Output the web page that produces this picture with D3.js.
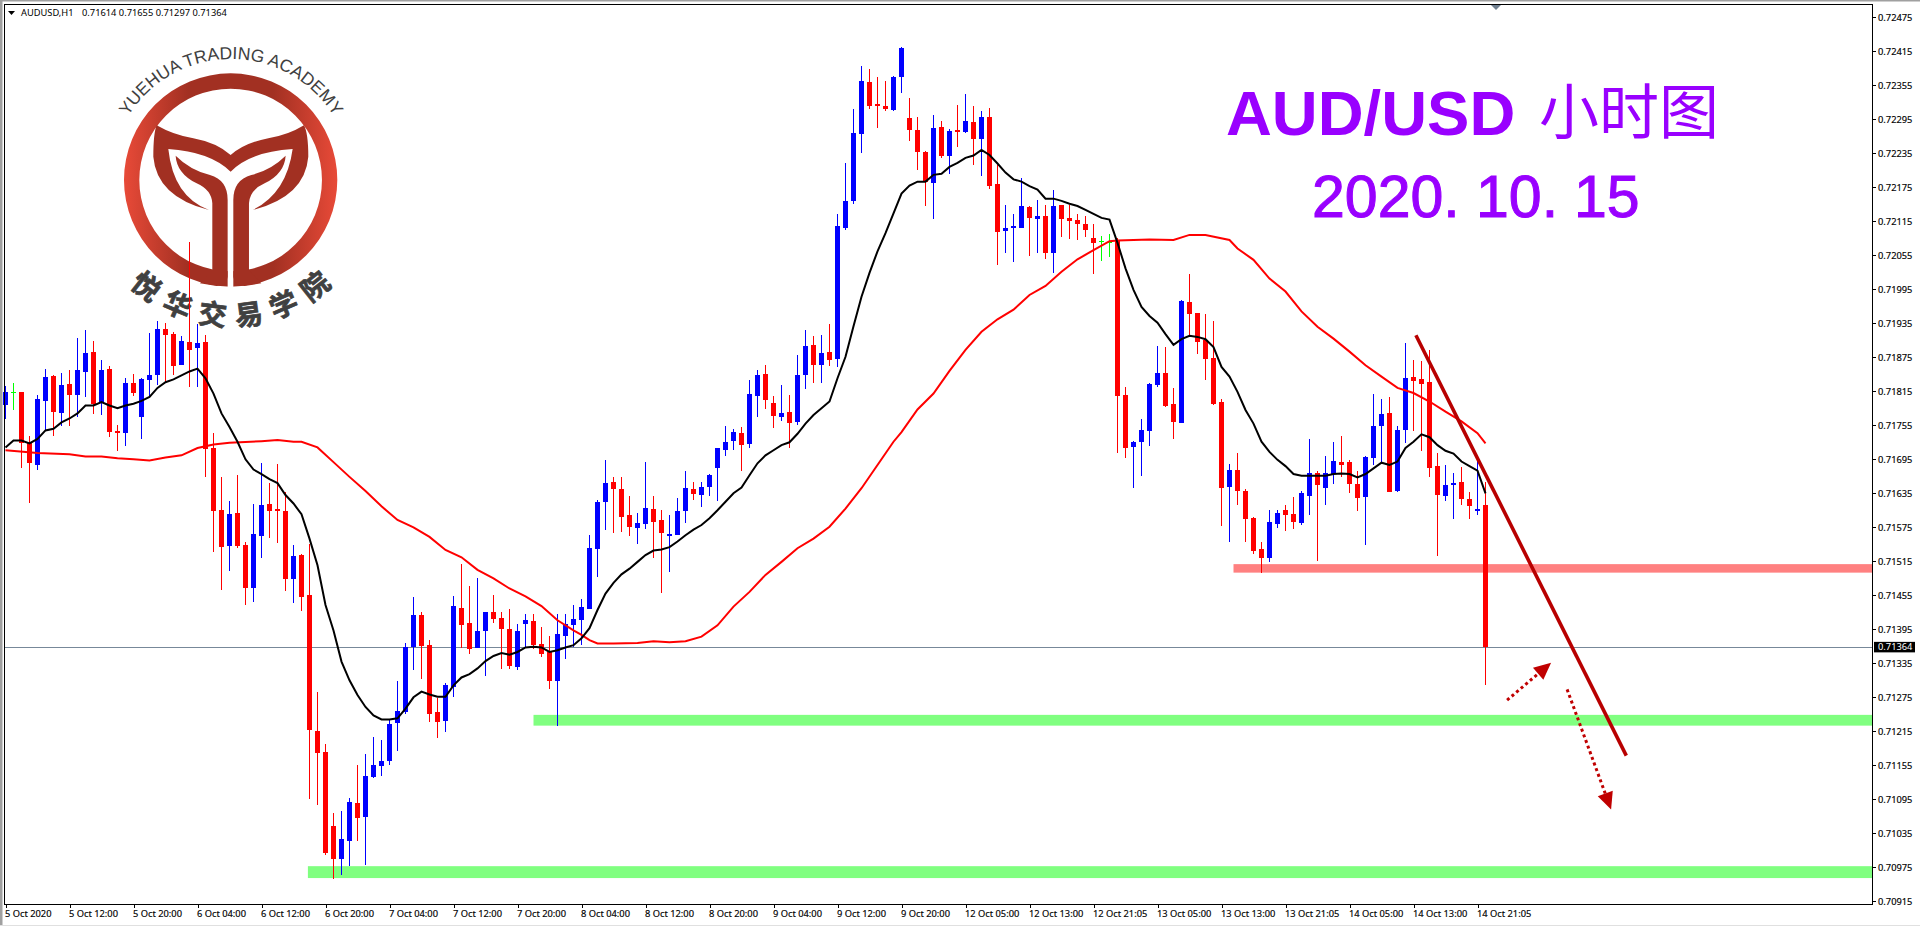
<!DOCTYPE html>
<html>
<head>
<meta charset="utf-8">
<title>AUD/USD</title>
<script src="https://cdn.jsdelivr.net/npm/d3@7"></script>
<style>
    html, body { margin: 0; padding: 0; background: #fff; overflow: hidden; }
    svg { display: block; }
    .axis text { font-family: "Noto Sans", sans-serif; font-size: 9.3px; fill: #000; stroke: #000; stroke-width: 0.15; }
    .axis path, .axis line { stroke: #000; shape-rendering: crispEdges; }
</style>
</head>
<body>
<div id="chart"></div>
<script>
// all prices are in points (price x 100000)
var opens = [
    71791,71813,71813,71723,71685,71798,71842,71776,71828,71808,
    71849,71884,71796,71854,71745,71741,71829,71769,71835,71843,
    71925,71916,71861,71902,71891,71902,71715,71605,71542,71600,
    71543,71468,71559,71616,71607,71603,71483,71526,71455,71215,
    71178,71048,70989,71021,71088,71063,71134,71153,71162,71229,
    71249,71363,71420,71367,71249,71233,71293,71432,71406,71362,
    71392,71425,71415,71395,71328,71404,71409,71369,71355,71303,
    71383,71402,71411,71431,71537,71620,71655,71642,71597,71574,
    71581,71607,71588,71560,71561,71604,71642,71632,71646,71680,
    71711,71727,71741,71722,71807,71845,71794,71770,71778,71761,
    71844,71897,71861,71884,71872,72104,72151,72269,72361,72322,
    72319,72312,72370,72298,72277,72238,72183,72282,72231,72277,
    72273,72291,72261,72299,72181,72098,72104,72104,72141,72119,
    72125,72059,72144,72121,72118,72111,72086,72080,72079,72082,
    71808,71717,71726,71745,71826,71847,71793,71759,71973,71953,
    71906,71874,71796,71646,71676,71639,71591,71537,71521,71581,
    71606,71598,71583,71630,71671,71644,71669,71690,71690,71651,
    71628,71697,71754,71777,71639,71747,71840,71837,71832,71683,
    71630,71650,71655,71625,71604,71614
];
var highs = [
    71824,71829,71813,71737,71808,71854,71843,71847,71852,71909,
    71923,71903,71870,71859,71755,71838,71845,71838,71918,71939,
    71935,71919,71912,72078,71933,71914,71741,71663,71621,71667,
    71549,71616,71688,71653,71686,71638,71543,71528,71546,71284,
    71192,71071,71074,71097,71155,71175,71205,71199,71236,71303,
    71370,71452,71425,71376,71273,71300,71453,71510,71471,71485,
    71425,71455,71425,71430,71404,71422,71422,71399,71383,71422,
    71422,71438,71448,71561,71623,71694,71664,71664,71630,71600,
    71690,71630,71605,71597,71627,71674,71655,71655,71669,71715,
    71754,71748,71752,71835,71852,71861,71807,71826,71808,71879,
    71923,71912,71914,71934,72128,72218,72314,72389,72384,72370,
    72363,72372,72423,72333,72299,72239,72303,72292,72278,72321,
    72340,72319,72310,72315,72215,72144,72128,72192,72142,72153,
    72144,72171,72144,72144,72128,72125,72111,72089,72093,72085,
    71823,71727,71766,71830,71895,71893,71821,71976,72022,71953,
    71951,71939,71801,71687,71706,71643,71593,71549,71606,71606,
    71614,71628,71639,71731,71674,71701,71726,71736,71694,71674,
    71701,71810,71802,71805,71754,71900,71870,71869,71888,71706,
    71685,71671,71682,71637,71694,71655
];
var lows = [
    71766,71782,71679,71618,71676,71746,71736,71754,71753,71770,
    71805,71775,71773,71734,71709,71718,71806,71730,71805,71826,
    71832,71843,71861,71822,71822,71663,71531,71464,71498,71538,
    71438,71443,71521,71556,71547,71462,71441,71427,71095,71085,
    70996,70954,70961,70977,71021,70979,71132,71136,71155,71180,
    71245,71323,71307,71231,71203,71213,71275,71362,71351,71362,
    71312,71406,71325,71325,71323,71362,71360,71346,71289,71224,
    71342,71364,71367,71431,71487,71570,71565,71567,71560,71545,
    71572,71521,71459,71496,71561,71582,71623,71611,71630,71621,
    71701,71711,71674,71715,71770,71784,71750,71762,71715,71755,
    71819,71830,71830,71860,71858,72100,72146,72236,72314,72280,
    72310,72310,72342,72257,72206,72142,72119,72227,72199,72247,
    72271,72215,72195,72172,72038,72059,72044,72104,72054,72059,
    72049,72024,72088,72084,72082,72088,72022,72045,72052,71706,
    71697,71644,71666,71718,71823,71787,71731,71759,71914,71881,
    71835,71791,71577,71549,71614,71549,71528,71494,71514,71574,
    71569,71572,71579,71597,71516,71614,71651,71664,71636,71604,
    71544,71685,71688,71637,71637,71724,71745,71710,71664,71525,
    71622,71590,71615,71590,71597,71297
];
var closes = [
    71813,71813,71723,71689,71801,71840,71778,71826,71808,71852,
    71882,71792,71852,71743,71741,71829,71812,71836,71843,71925,
    71914,71859,71903,71888,71900,71713,71603,71540,71598,71542,
    71468,71563,71614,71603,71603,71483,71524,71452,71217,71176,
    71000,70989,71025,71090,71062,71136,71155,71162,71228,71250,
    71363,71420,71365,71245,71231,71296,71436,71402,71360,71392,
    71425,71413,71395,71330,71392,71411,71367,71351,71303,71386,
    71404,71413,71434,71538,71620,71653,71642,71593,71575,71582,
    71609,71584,71565,71563,71604,71644,71634,71646,71667,71715,
    71725,71743,71720,71810,71844,71800,71771,71777,71759,71844,
    71895,71861,71882,71870,72107,72151,72271,72363,72319,72319,
    72314,72370,72421,72277,72238,72185,72280,72231,72275,72273,
    72292,72261,72299,72178,72097,72104,72107,72142,72121,72125,
    72059,72142,72119,72116,72111,72100,72077,72080,72079,71807,
    71715,71726,71747,71828,71847,71789,71761,71974,71951,71902,
    71872,71793,71644,71676,71639,71590,71533,71521,71584,71600,
    71597,71584,71636,71671,71650,71671,71692,71685,71651,71627,
    71699,71754,71775,71637,71747,71839,71833,71828,71680,71632,
    71650,71653,71625,71613,71607,71364
];
// black moving average, one value per bar
var fastMa = [
    71716,71728,71728,71723,71731,71746,71749,71760,71767,71776,
    71790,71790,71796,71790,71785,71790,71793,71798,71805,71821,
    71831,71836,71843,71850,71855,71838,71811,71776,71752,71726,
    71695,71677,71669,71660,71653,71632,71617,71598,71555,71508,
    71438,71393,71338,71305,71279,71258,71243,71236,71236,71238,
    71255,71275,71285,71280,71276,71276,71296,71310,71316,71326,
    71339,71348,71353,71350,71355,71363,71364,71363,71355,71358,
    71363,71367,71379,71397,71429,71458,71477,71492,71502,71514,
    71526,71534,71536,71540,71550,71561,71571,71579,71591,71605,
    71620,71635,71645,71667,71688,71702,71711,71720,71725,71740,
    71758,71773,71785,71797,71838,71876,71930,71982,72024,72062,
    72094,72129,72164,72178,72185,72185,72197,72199,72211,72218,
    72227,72231,72241,72232,72217,72201,72189,72185,72177,72171,
    72155,72155,72151,72146,72142,72135,72128,72121,72118,72077,
    72032,71994,71964,71948,71936,71916,71897,71907,71913,71911,
    71907,71893,71858,71841,71814,71782,71758,71726,71708,71694,
    71683,71669,71666,71666,71666,71666,71669,71670,71669,71663,
    71669,71679,71689,71685,71691,71715,71726,71739,71734,71720,
    71710,71705,71691,71683,71675,71635
];
// red moving average, read at these bars only
var slowMaBars = [
    0,4,8,10,12,14,16,18,20,22,24,26,28,32,34,36,37,39,41,43,45,47,49,51,53,55,57,59,61,63,
    65,67,69,71,72,73,74,76,79,81,83,85,87,89,91,93,95,97,99,101,103,105,107,109,111,112,114,
    116,118,120,122,124,126,128,130,132,134,136,138,139,143,146,148,150,153,154,156,158,160,
    162,164,166,168,170,172,174,176,178,180,182,184,185
];
var slowMa = [
    71711,71706,71704,71700,71700,71697,71695,71693,71698,71702,71715,71721,71724,71727,71729,
    71726,71726,71716,71690,71664,71639,71612,71588,71575,71558,71535,71522,71500,71485,71467,
    71453,71436,71411,71393,71385,71376,71370,71370,71371,71374,71372,71374,71382,71402,71435,
    71461,71491,71514,71538,71555,71576,71608,71644,71685,71726,71743,71783,71811,71851,71888,
    71920,71942,71959,71985,72001,72026,72048,72064,72080,72081,72083,72082,72091,72091,72082,
    72067,72047,72014,71991,71956,71929,71908,71885,71861,71841,71821,71812,71797,71779,71762,
    71741,71723
];

var priceTicks = [
    72475,72415,72355,72295,72235,72175,72115,72055,71995,71935,71875,71815,71755,71695,
    71635,71575,71515,71455,71395,71335,71275,71215,71155,71095,71035,70975,70915
];
var timeLabels = [
    "5 Oct 2020","5 Oct 12:00","5 Oct 20:00","6 Oct 04:00","6 Oct 12:00","6 Oct 20:00",
    "7 Oct 04:00","7 Oct 12:00","7 Oct 20:00","8 Oct 04:00","8 Oct 12:00","8 Oct 20:00",
    "9 Oct 04:00","9 Oct 12:00","9 Oct 20:00","12 Oct 05:00","12 Oct 13:00","12 Oct 21:05",
    "13 Oct 05:00","13 Oct 13:00","13 Oct 21:05","14 Oct 05:00","14 Oct 13:00","14 Oct 21:05"
];
var barsPerLabel = 8;

var lastPrice = 71364;
// hand drawn marks on the chart: bars and points
var zones = [
    { from: 153.5, top: 71510, bottom: 71495, color: "#ff8080" },
    { from: 66, top: 71244, bottom: 71225, color: "#80ff80" },
    { from: 37.8, top: 70977, bottom: 70956, color: "#80ff80" }
];
var trendBars = [176.3, 202.6];
var trendPrices = [71914, 71172];
var arrowUpBars = [187.7, 193.2];
var arrowUpPrices = [71270, 71336];
var arrowDownBars = [195.2, 200.7];
var arrowDownPrices = [71289, 71077];

function init() {
    var w = 1920;
    var h = 927;
    var plotRight = 1872;
    var plotBottom = 904;

    var svg = d3.select("#chart").append("svg").attr("width", w).attr("height", h);

    // one bar every 8 pixels
    var xScale = d3.scaleLinear().domain([0, 233]).range([5.5, 5.5 + 8 * 233]);
    var yScale = d3.scaleLinear().domain([70915, 72475]).range([901.3, 17.3]);

    // window frame
    svg.append("rect").attr("x", 0).attr("y", 0).attr("width", 2.5).attr("height", h - 1).attr("fill", "#a0a0a0");
    svg.append("rect").attr("x", 0).attr("y", 0).attr("width", w).attr("height", 1.5).attr("fill", "#a0a0a0");
    svg.append("rect").attr("x", 0).attr("y", h - 2).attr("width", w).attr("height", 1).attr("fill", "#e0e0e0");

    drawLogo(svg);

    // title
    svg.append("text").attr("x", 1226).attr("y", 135)
        .attr("font-family", "Liberation Sans").attr("font-weight", "bold").attr("font-size", 63.5)
        .attr("fill", "#9900ff").text("AUD/USD");
    svg.append("text").attr("x", 1539).attr("y", 134)
        .attr("font-family", "Noto Sans CJK SC").attr("font-size", 60)
        .attr("fill", "#9900ff").text("小时图");
    // the date parts are spaced wider than a normal space
    var dateParts = ["2020.", "10.", "15"];
    var dateX = [1312, 1476, 1574];
    dateParts.forEach(function (t, k) {
        svg.append("text").attr("x", dateX[k]).attr("y", 217)
            .attr("font-family", "Liberation Sans").attr("font-size", 59)
            .attr("fill", "#9900ff").attr("stroke", "#9900ff").attr("stroke-width", 1)
            .text(t);
    });

    var plot = svg.append("g");

    // support and resistance zones
    plot.selectAll("rect.zone").data(zones).enter().append("rect")
        .attr("class", "zone")
        .attr("x", function (d) { return xScale(d.from); })
        .attr("y", function (d) { return yScale(d.top); })
        .attr("width", function (d) { return plotRight - xScale(d.from); })
        .attr("height", function (d) { return yScale(d.bottom) - yScale(d.top); })
        .attr("fill", function (d) { return d.color; });

    // last price line
    plot.append("line")
        .attr("x1", 5).attr("x2", plotRight)
        .attr("y1", Math.round(yScale(lastPrice)) + 0.5).attr("y2", Math.round(yScale(lastPrice)) + 0.5)
        .attr("stroke", "#778899").attr("stroke-width", 1);

    // candles
    var bars = d3.range(opens.length);
    function candleColor(i) {
        if (closes[i] > opens[i]) return "#0000ff";
        if (closes[i] < opens[i]) return "#ff0000";
        return "#00ff00";
    }

    var candle = plot.append("g").attr("shape-rendering", "crispEdges")
        .selectAll("g").data(bars).enter().append("g");
    candle.append("line")
        .attr("x1", function (i) { return xScale(i); })
        .attr("x2", function (i) { return xScale(i); })
        .attr("y1", function (i) { return yScale(highs[i]); })
        .attr("y2", function (i) { return yScale(lows[i]); })
        .attr("stroke", candleColor);
    candle.append("rect")
        .attr("x", function (i) { return xScale(i) - 2.5; })
        .attr("y", function (i) { return yScale(Math.max(opens[i], closes[i])); })
        .attr("width", 5)
        .attr("height", function (i) { return Math.max(1, Math.abs(yScale(opens[i]) - yScale(closes[i]))); })
        .attr("fill", candleColor);

    // moving averages
    var line = d3.line()
        .x(function (d) { return xScale(d[0]); })
        .y(function (d) { return yScale(d[1]); });
    plot.append("path")
        .attr("d", line(slowMaBars.map(function (b, k) { return [b, slowMa[k]]; })))
        .attr("fill", "none").attr("stroke", "#ff0000").attr("stroke-width", 2);
    plot.append("path")
        .attr("d", line(fastMa.map(function (v, k) { return [k, v]; })))
        .attr("fill", "none").attr("stroke", "#000").attr("stroke-width", 2);

    // trend line and dotted arrows
    plot.append("path")
        .attr("d", line(trendBars.map(function (b, k) { return [b, trendPrices[k]]; })))
        .attr("stroke", "#b80000").attr("stroke-width", 3.6).attr("fill", "none");
    drawArrow(plot, xScale, yScale, arrowUpBars, arrowUpPrices);
    drawArrow(plot, xScale, yScale, arrowDownBars, arrowDownPrices);

    // axes
    var yAxis = d3.axisRight(yScale)
        .tickValues(priceTicks)
        .tickSize(4).tickPadding(2)
        .tickFormat(function (d) { return (d / 100000).toFixed(5); });
    svg.append("g").attr("class", "axis")
        .attr("transform", "translate(" + plotRight + ",0)")
        .call(yAxis)
        .call(function (g) { g.select(".domain").remove(); });

    var xAxis = d3.axisBottom(xScale)
        .tickValues(timeLabels.map(function (t, k) { return k * barsPerLabel; }))
        .tickSize(4).tickPadding(2)
        .tickFormat(function (d) { return timeLabels[d / barsPerLabel]; });
    svg.append("g").attr("class", "axis")
        .attr("transform", "translate(0," + plotBottom + ")")
        .call(xAxis)
        .call(function (g) { g.select(".domain").remove(); })
        .selectAll("text").attr("text-anchor", "start").attr("dx", -1);

    // plot border
    svg.append("rect")
        .attr("x", 4.5).attr("y", 4.5)
        .attr("width", plotRight - 4).attr("height", plotBottom - 4)
        .attr("fill", "none").attr("stroke", "#000").attr("shape-rendering", "crispEdges");

    // last price label
    svg.append("rect").attr("x", 1874).attr("y", yScale(lastPrice) - 5)
        .attr("width", 41).attr("height", 10.5).attr("fill", "#000");
    svg.append("text").attr("x", 1878).attr("y", yScale(lastPrice) + 3.5)
        .attr("font-family", "Noto Sans").attr("font-size", 9.3).attr("fill", "#fff")
        .text((lastPrice / 100000).toFixed(5));

    // top left caption
    svg.append("path").attr("d", "M8 11 L15 11 L11.5 15 Z").attr("fill", "#000");
    svg.append("text").attr("x", 21).attr("y", 16)
        .attr("font-family", "Noto Sans").attr("font-size", 9.3).attr("fill", "#000")
        .text("AUDUSD,H1");
    svg.append("text").attr("x", 82).attr("y", 16)
        .attr("font-family", "Noto Sans").attr("font-size", 9.3).attr("fill", "#000")
        .text("0.71614 0.71655 0.71297 0.71364");

    // chart shift marker
    svg.append("path").attr("d", "M1491 5 L1501 5 L1496 10 Z").attr("fill", "#708090");
}

function drawArrow(plot, xScale, yScale, barPair, pricePair) {
    var x1 = xScale(barPair[0]), y1 = yScale(pricePair[0]);
    var x2 = xScale(barPair[1]), y2 = yScale(pricePair[1]);
    var a = Math.atan2(y2 - y1, x2 - x1);
    var headLen = 17, headHalf = 8;
    var bx = x2 - headLen * Math.cos(a), by = y2 - headLen * Math.sin(a);
    plot.append("line")
        .attr("x1", x1).attr("y1", y1).attr("x2", bx).attr("y2", by)
        .attr("stroke", "#c00000").attr("stroke-width", 3).attr("stroke-dasharray", "3 3");
    var head = [
        [x2, y2],
        [bx - headHalf * Math.sin(a), by + headHalf * Math.cos(a)],
        [bx + headHalf * Math.sin(a), by - headHalf * Math.cos(a)]
    ];
    plot.append("polygon").attr("points", head.join(" ")).attr("fill", "#c00000");
}

function drawLogo(svg) {
    var defs = svg.append("defs");
    var grad = defs.append("linearGradient").attr("id", "ringFill");
    grad.append("stop").attr("offset", "0%").attr("stop-color", "#e84a38");
    grad.append("stop").attr("offset", "30%").attr("stop-color", "#a23022");
    grad.append("stop").attr("offset", "70%").attr("stop-color", "#a23022");
    grad.append("stop").attr("offset", "100%").attr("stop-color", "#e84a38");
    defs.append("path").attr("id", "logoArc").attr("d", "M 110 180 A 121 121 0 0 1 352 180");

    var logo = svg.append("g");
    // drawn at 3x, then scaled down
    var g = logo.append("g").attr("transform", "scale(0.3333)");
    g.append("path")
        .attr("fill-rule", "evenodd").attr("fill", "url(#ringFill)")
        .attr("d", "M372 540 A320 320 0 1 1 1012 540 A320 320 0 1 1 372 540 Z M418 540 A274 274 0 1 0 966 540 A274 274 0 1 0 418 540 Z");
    g.append("rect").attr("x", 683).attr("y", 780).attr("width", 17).attr("height", 90).attr("fill", "#fff");
    // wings
    g.append("path").attr("fill", "#a23022")
        .attr("d", "M470 376 Q520 405 580 415 Q650 428 692 465 Q735 428 805 415 Q865 405 912 376 Q925 400 925 470 Q915 590 758 630 Q860 580 878 447 Q750 455 692 515 Q630 455 505 447 Q520 590 627 630 Q470 590 460 470 Q460 400 470 376 Z");
    // stems
    g.append("path").attr("fill", "#a23022")
        .attr("d", "M527 467 Q570 510 630 525 Q683 540 683 600 L683 830 Q680 858 650 858 L600 850 L637 810 L637 610 Q635 570 590 550 Q530 520 527 467 Z");
    g.append("path").attr("fill", "#a23022")
        .attr("d", "M857 467 Q814 510 754 525 Q700 540 700 600 L700 830 Q704 858 734 858 L784 850 L747 810 L747 610 Q749 570 794 550 Q854 520 857 467 Z");

    logo.append("text")
        .attr("font-family", "Liberation Sans").attr("font-size", 17.5).attr("fill", "#404040")
        .append("textPath").attr("href", "#logoArc").attr("startOffset", "50%")
        .attr("text-anchor", "middle").text("YUEHUA TRADING ACADEMY");

    var chars = ["悦", "华", "交", "易", "学", "院"];
    var angles = [38.4, 23, 7.6, -7.6, -23, -38.4];
    chars.forEach(function (c, k) {
        logo.append("text")
            .attr("transform", "translate(230.7,180) rotate(" + angles[k] + ") translate(0,146)")
            .attr("text-anchor", "middle")
            .attr("font-family", "Noto Sans CJK SC").attr("font-weight", "bold").attr("font-size", 28)
            .attr("fill", "#404040").attr("stroke", "#404040").attr("stroke-width", 0.7).text(c);
    });
}

window.onload = init;
</script>
</body>
</html>
